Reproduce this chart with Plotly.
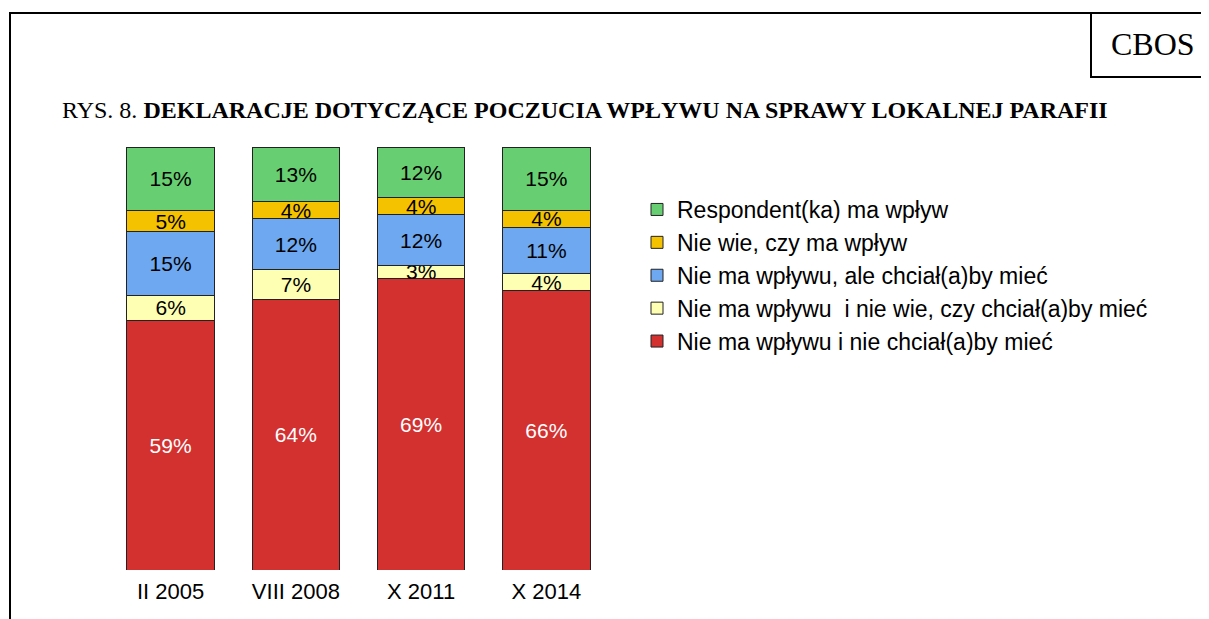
import plotly.graph_objects as go

# dane
kategorie = ["II 2005", "VIII 2008", "X 2011", "X 2014"]
nie_chcialby = [59, 64, 69, 66]
nie_wie_czy_chcialby = [6, 7, 3, 4]
chcialby_miec = [15, 12, 12, 11]
nie_wie_czy_ma = [5, 4, 4, 4]
ma_wplyw = [15, 13, 12, 15]

serie = [
    ("Nie ma wpływu i nie chciał(a)by mieć", nie_chcialby, "#d33030", "white"),
    ("Nie ma wpływu \u00a0i nie wie, czy chciał(a)by mieć", nie_wie_czy_chcialby, "#ffffb3", "black"),
    ("Nie ma wpływu, ale chciał(a)by mieć", chcialby_miec, "#6ea8f0", "black"),
    ("Nie wie, czy ma wpływ", nie_wie_czy_ma, "#f5c200", "black"),
    ("Respondent(ka) ma wpływ", ma_wplyw, "#67cf72", "black"),
]

# strona ma margines 8 px, więc figura jest o tyle mniejsza
OFF = 8
W, H = 1201, 611
L, R, T, B = 100, 600, 139, 49
pw, ph = W - L - R, H - T - B


def px_x(px):
    # współrzędna ekranu -> paper
    return (px - OFF - L) / pw


def px_y(py):
    return (H - B - (py - OFF)) / ph


FONT = "Liberation Sans, Arial"
SERIF = "Liberation Serif, Times New Roman"

fig = go.Figure()

for nazwa, wartosci, kolor, kolor_tekstu in serie:
    fig.add_trace(
        go.Bar(
            x=kategorie,
            y=wartosci,
            name=nazwa,
            marker=dict(color=kolor, line=dict(color="#222222", width=1)),
            text=[f"{v}%" for v in wartosci],
            textposition="inside",
            insidetextanchor="middle",
            constraintext="none",
            textfont=dict(family=FONT, size=21, color=kolor_tekstu),
            hoverinfo="skip",
        )
    )

fig.update_layout(
    width=W,
    height=H,
    margin=dict(l=L, r=R, t=T, b=B),
    barmode="stack",
    bargap=0.3,
    paper_bgcolor="white",
    plot_bgcolor="white",
    showlegend=True,
    legend=dict(
        x=px_x(637),
        y=px_y(188),
        xanchor="left",
        yanchor="top",
        traceorder="reversed",
        font=dict(family=FONT, size=23, color="black"),
        itemwidth=30,
        bgcolor="rgba(0,0,0,0)",
    ),
    xaxis=dict(
        range=[-0.5, 3.5],
        showgrid=False,
        showline=False,
        ticks="",
        ticklabelstandoff=6,
        tickfont=dict(family=FONT, size=22, color="black"),
    ),
    yaxis=dict(range=[0, 100], visible=False),
    shapes=[
        # ramka
        dict(type="rect", xref="paper", yref="paper",
             x0=px_x(10), x1=px_x(1220), y0=px_y(13), y1=px_y(650),
             line=dict(color="black", width=2), layer="below"),
        # ramka CBOS
        dict(type="rect", xref="paper", yref="paper",
             x0=px_x(1091), x1=px_x(1220), y0=px_y(13), y1=px_y(77),
             line=dict(color="black", width=2), layer="below"),
    ],
    annotations=[
        dict(text="CBOS", xref="paper", yref="paper", x=px_x(1153), y=px_y(44),
             showarrow=False, xanchor="center", yanchor="middle",
             font=dict(family=SERIF, size=32, color="black")),
        dict(text="RYS. 8. <b>DEKLARACJE DOTYCZĄCE POCZUCIA WPŁYWU NA SPRAWY LOKALNEJ PARAFII</b>",
             xref="paper", yref="paper", x=px_x(60), y=px_y(110),
             showarrow=False, xanchor="left", yanchor="middle",
             font=dict(family=SERIF, size=24, color="black")),
    ],
)

fig.write_html("out.html")
